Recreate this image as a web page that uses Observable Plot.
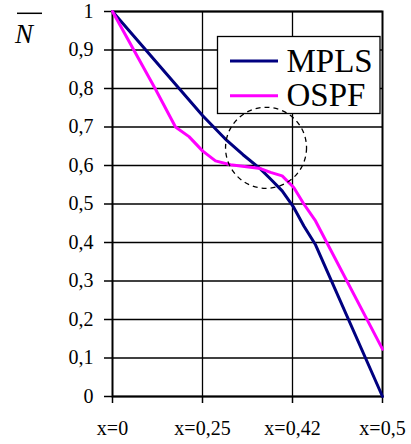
<!DOCTYPE html>
<html><head><meta charset="utf-8">
<script src="https://cdn.jsdelivr.net/npm/d3@7"></script>
<script src="https://cdn.jsdelivr.net/npm/@observablehq/plot@0.6"></script>
<style>body{margin:0;background:#fff;}</style>
</head><body><div id="chart"></div>
<script>
const xLabels = ["x=0", "x=0,25", "x=0,42", "x=0,5"];
const xTicks = [0, 1, 2, 3];
const yTicks = [0, 0.1, 0.2, 0.3, 0.4, 0.5, 0.6, 0.7, 0.8, 0.9, 1];
const seriesNames = ["MPLS", "OSPF"];
const seriesColors = ["#000080", "#FF00FF"];
const mplsPos = [0, 1, 1.27, 1.45, 1.64, 1.756, 1.885, 2.014, 2.126, 2.256, 3];
const mplsVal = [1, 0.73, 0.665, 0.628, 0.592, 0.565, 0.534, 0.491, 0.443, 0.394, 0];
const ospfPos = [0, 0.478, 0.70, 0.85, 1.0, 1.144, 1.311, 1.644, 1.756, 1.885, 2.014, 2.126, 2.256, 3];
const ospfVal = [1, 0.798, 0.70, 0.675, 0.638, 0.612, 0.602, 0.592, 0.582, 0.573, 0.543, 0.50, 0.456, 0.123];
const circleCenter = [{pos: 1.706, val: 0.646}];

const rows = [
  ...mplsPos.map((p, i) => ({series: "MPLS", pos: p, val: mplsVal[i]})),
  ...ospfPos.map((p, i) => ({series: "OSPF", pos: p, val: ospfVal[i]}))
];

const font = "'Liberation Serif', 'Times New Roman', serif";
const svgEl = Plot.plot({
  width: 411, height: 444,
  marginLeft: 112, marginRight: 29, marginTop: 11, marginBottom: 48,
  style: {fontFamily: font, fontSize: "20px", color: "black", background: "white"},
  x: {domain: [0, 3], label: null},
  y: {domain: [0, 1], label: null},
  color: {domain: seriesNames, range: seriesColors},
  marks: [
    Plot.gridY(yTicks, {stroke: "black", strokeOpacity: 1, strokeWidth: 1.3}),
    Plot.gridX([1, 2], {stroke: "black", strokeOpacity: 1, strokeWidth: 1.3}),
    Plot.axisY(yTicks, {tickSize: 8, tickPadding: 11, strokeWidth: 1.5, label: null,
      tickFormat: d => String(d).replace(".", ",")}),
    Plot.axisX(xTicks, {tickSize: 7, tickPadding: 17, strokeWidth: 1.5, label: null,
      tickFormat: i => xLabels[i]}),
    Plot.frame({stroke: "black", strokeWidth: 2}),
    Plot.line(rows, {x: "pos", y: "val", z: "series", stroke: "series", strokeWidth: 3, strokeLinejoin: "round"}),
    Plot.dot(circleCenter, {x: "pos", y: "val", r: 40.5, fill: "none", stroke: "black", strokeWidth: 1.3, strokeDasharray: "5,4"})
  ]
});

const svg = d3.select(svgEl);
// legend, placed under the dashed circle
const lg = svg.insert("g", () => svgEl.lastChild).attr("font-family", font).attr("text-anchor", "start");
lg.append("rect").attr("x", 217.5).attr("y", 36.5).attr("width", 162.5).attr("height", 77)
  .attr("fill", "white").attr("stroke", "black").attr("stroke-width", 1.3);
seriesNames.forEach((name, i) => {
  const cy = 61 + i * 34.7;
  lg.append("line").attr("x1", 230).attr("x2", 278).attr("y1", cy).attr("y2", cy)
    .attr("stroke", seriesColors[i]).attr("stroke-width", 3);
  lg.append("text").attr("x", 286.5).attr("y", cy + 10.7).attr("font-size", 33).attr("fill", "black").text(name);
});
// y label: N with overline
const nl = svg.append("g").attr("text-anchor", "start");
nl.append("text").attr("x", 15).attr("y", 43.3).attr("font-family", font).attr("font-style", "italic")
  .attr("font-size", 27).attr("fill", "black").text("N");
nl.append("line").attr("x1", 17).attr("x2", 42).attr("y1", 13.3).attr("y2", 13.3)
  .attr("stroke", "black").attr("stroke-width", 1.5);

document.getElementById("chart").appendChild(svgEl);
</script>
</body></html>
